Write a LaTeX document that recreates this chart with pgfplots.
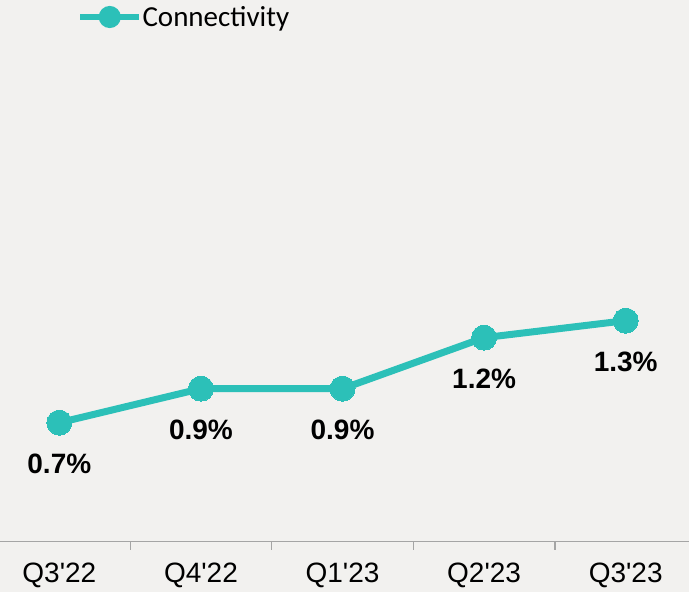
\documentclass[border=0pt]{standalone}
\usepackage{pgfplots}
\pgfplotsset{compat=1.18}
\usepackage{fontspec}
\setmainfont{Liberation Sans}[Ligatures=TeXOff]
\newfontfamily\carlito{Carlito}
\definecolor{teal1}{RGB}{44,192,184}
\definecolor{bgc}{RGB}{242,241,239}
\definecolor{axgray}{RGB}{165,165,165}
\begin{document}
\begin{tikzpicture}
\useasboundingbox (0,-50.3pt) rectangle (689pt,541.7pt);
\fill[bgc] (0,-50.3pt) rectangle (689pt,541.7pt);
\begin{axis}[
  at={(0,0)}, anchor=south west,
  scale only axis, width=689pt, height=541.7pt,
  xmin=-0.419, xmax=4.447, ymin=0, ymax=3.186,
  hide y axis,
  axis x line*=bottom,
  x axis line style={axgray, line width=1.2pt},
  xtick={0,1,2,3,4},
  xticklabels={Q3'22,Q4'22,Q1'23,Q2'23,Q3'23},
  major tick length=0pt,
  xticklabel style={anchor=north, inner sep=0pt, yshift=-21pt, font=\fontsize{28}{32}\selectfont},
  extra x ticks={0.5,1.5,2.5,3.5},
  extra x tick labels={},
  extra x tick style={major tick length=8pt, tick align=outside, tick style={axgray, line width=1.2pt}},
  clip=false,
  legend style={draw=none, fill=none, inner sep=0pt, outer sep=0pt,
    at={(0.1118,0.9686)}, anchor=west,
    font=\carlito\fontsize{29}{34}\selectfont,
    nodes={inner sep=0pt}},
  legend image code/.code={\draw[line width=6.5pt, teal1] (0pt,0pt) -- (59pt,0pt); \fill[teal1] (29.5pt,0pt) circle (7.5pt);},
  nodes near coords,
  point meta=explicit symbolic,
  nodes near coords style={anchor=north, inner sep=0pt, yshift=-31pt, font=\bfseries\fontsize{28}{32}\selectfont, text=black},
]
\addplot[teal1, line width=7pt, mark=*, mark size=12.5pt, mark options={fill=teal1, draw=teal1, line width=0pt}]
  coordinates {(0,0.7) [0.7\%] (1,0.9) [0.9\%] (2,0.9) [0.9\%] (3,1.2) [1.2\%] (4,1.3) [1.3\%]};
\addlegendentry{Connectivity}
\end{axis}
\end{tikzpicture}
\end{document}
